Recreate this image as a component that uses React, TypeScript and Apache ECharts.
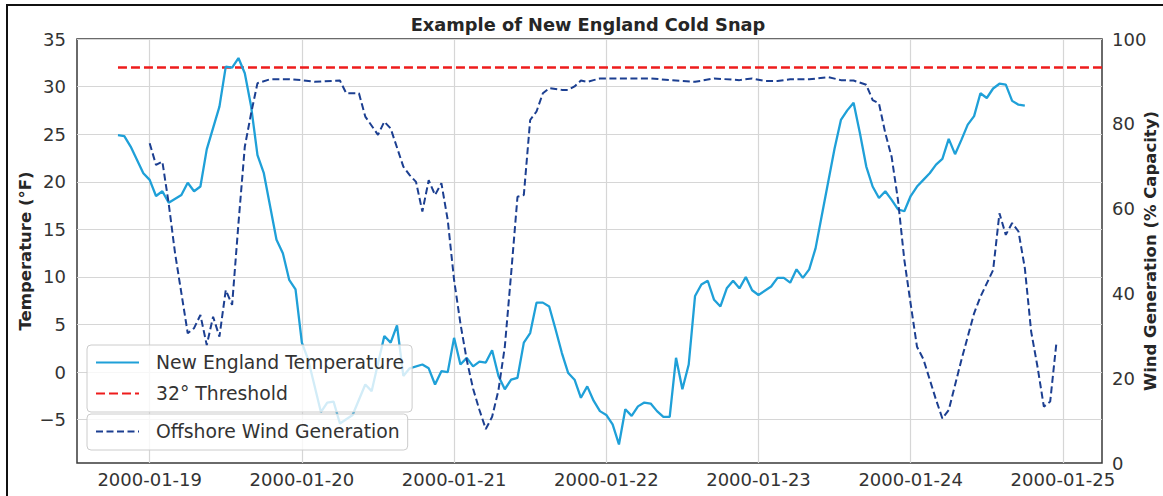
import React, { useEffect, useRef } from "react";
import * as echarts from "echarts";

const FONT = "DejaVu Sans";

// x axis: hours since 2000-01-19 00:00
const X_MIN = -11.46;
const X_MAX = 150.17;
const xTickHours = [0, 24, 48, 72, 96, 120, 144];
const xTickLabels = [
  "2000-01-19",
  "2000-01-20",
  "2000-01-21",
  "2000-01-22",
  "2000-01-23",
  "2000-01-24",
  "2000-01-25",
];

const tempTicks = [-5, 0, 5, 10, 15, 20, 25, 30, 35];
const TEMP_MIN = -9.55;
const TEMP_MAX = 35;

const tempHours = [
  -5, -4, -3, -1, 0, 1, 2, 3, 5, 6, 7, 8, 9, 11, 12, 13, 14, 15, 16, 17, 18, 20, 21, 22, 23, 24, 25, 27, 28, 29, 30, 32,
  34, 35, 37, 38, 39, 40, 41, 43, 44, 45, 46, 47, 48, 49, 50, 51, 52, 53, 54, 55, 56, 57, 58, 59, 60, 61, 62, 63, 64,
  65, 66, 67, 68, 69, 70, 71, 72, 73, 74, 75, 76, 77, 78, 79, 80, 81, 82, 83, 84, 85, 86, 87, 88, 89, 90, 91, 92, 93,
  94, 95, 96, 98, 99, 100, 101, 102, 103, 104, 105, 106, 107, 108, 109, 110, 111, 112, 113, 114, 115, 116, 117, 118,
  119, 120, 121, 122, 123, 124, 125, 126, 127, 128, 129, 130, 131, 132, 133, 134, 135, 136, 137, 138,
];
const tempValues = [
  24.9, 24.8, 23.7, 20.9, 20.2, 18.5, 19.0, 17.8, 18.6, 19.9, 19.0, 19.5, 23.4, 27.9, 32.1, 32.0, 33.0, 31.4, 27.9,
  22.8, 20.9, 13.9, 12.5, 9.7, 8.7, 3.1, 1.3, -4.2, -3.2, -3.1, -5.4, -4.5, -1.3, -2.0, 3.8, 3.1, 4.9, -0.4, 0.4, 0.8,
  0.4, -1.3, 0.1, 0.0, 3.6, 0.8, 1.5, 0.6, 1.1, 1.0, 2.3, -0.4, -1.8, -0.8, -0.6, 3.1, 4.1, 7.3, 7.3, 6.9, 4.5, 2.0,
  -0.1, -0.8, -2.7, -1.5, -3.0, -4.1, -4.5, -5.5, -7.6, -3.9, -4.6, -3.6, -3.2, -3.3, -4.1, -4.7, -4.7, 1.5, -1.8,
  0.8, 8.0, 9.2, 9.6, 7.6, 6.9, 8.8, 9.6, 8.8, 10.0, 8.6, 8.1, 9.0, 9.9, 9.9, 9.4, 10.8, 9.9, 10.8, 13.0, 16.5, 20.0,
  23.5, 26.5, 27.5, 28.3, 25.1, 21.6, 19.5, 18.3, 19.0, 18.1, 17.1, 16.9, 18.5, 19.5, 20.2, 20.9, 21.8, 22.4, 24.5,
  22.9, 24.4, 26.0, 26.9, 29.3, 28.8, 29.8, 30.3, 30.2, 28.5, 28.1, 28.0,
];

const THRESHOLD = 32;
const thresholdHours = [-5, X_MAX];

const windHours = [
  0, 1, 2, 3, 4, 6, 7, 8, 9, 10, 11, 12, 13, 14, 15, 16, 17, 19, 22, 24, 26, 30, 31, 33, 34, 36, 37, 38, 40, 41, 42,
  43, 44, 45, 46, 47, 48, 49, 50, 51, 52, 53, 54, 55, 56, 57, 58, 59, 60, 61, 62, 63, 65, 66, 67, 68, 69, 70, 71, 74,
  79, 82, 86, 89, 93, 95, 97, 99, 101, 104, 107, 109, 111, 113, 114, 115, 116, 117, 118, 119, 120, 121, 122, 124, 125,
  126, 128, 130, 131, 133, 134, 135, 136, 137, 138, 139, 140, 141, 142, 143,
];
const windValues = [
  75.4, 70.3, 71.1, 61.2, 49.5, 30.6, 31.8, 34.9, 27.8, 34.5, 29.8, 40.8, 37.3, 56.5, 74.6, 82.5, 89.6, 90.5, 90.5,
  90.3, 89.9, 90.2, 87.2, 87.2, 81.7, 77.4, 80.5, 78.9, 69.9, 67.9, 66.3, 59.3, 66.7, 63.2, 66.0, 57.3, 43.2, 32.9,
  24.3, 17.5, 12.5, 8.0, 10.9, 17.2, 27.4, 44.7, 62.8, 63.2, 80.9, 82.9, 87.2, 88.4, 88.0, 88.0, 88.8, 90.2, 89.9,
  90.3, 90.7, 90.7, 90.7, 90.3, 89.9, 90.7, 90.3, 90.7, 90.1, 90.1, 90.5, 90.5, 91.0, 90.3, 90.2, 89.2, 85.6, 84.8,
  77.8, 72.2, 62.0, 47.9, 37.5, 27.4, 24.5, 14.9, 10.5, 12.5, 24.3, 35.3, 39.2, 45.5, 58.9, 53.8, 56.6, 54.6, 46.0,
  31.0, 22.7, 13.3, 14.5, 28.6,
];

const TEMP_NAME = "New England Temperature";
const THRESH_NAME = "32° Threshold";
const WIND_NAME = "Offshore Wind Generation";

export default function App() {
  const ref = useRef<HTMLDivElement>(null);

  useEffect(() => {
    if (!ref.current) return;
    const chart = echarts.init(ref.current, null, { renderer: "svg" });

    const legendBase = {
      orient: "vertical",
      left: 87,
      itemWidth: 43,
      itemHeight: 18,
      itemGap: 12,
      padding: [8, 8, 9, 8],
      backgroundColor: "rgba(255,255,255,0.8)",
      borderColor: "#cccccc",
      borderWidth: 1,
      borderRadius: 4,
      selectedMode: false,
      itemStyle: { opacity: 0 },
      textStyle: { fontFamily: FONT, fontSize: 18.8, color: "#333333", padding: [0, 0, 0, 12] },
    };

    chart.setOption({
      animation: false,
      backgroundColor: "#ffffff",
      textStyle: { fontFamily: FONT },
      grid: {
        left: 77,
        right: 61,
        top: 39,
        bottom: 33,
        outerBoundsMode: "none",
        containLabel: false,
        show: true,
        borderColor: "#3a3a3a",
        borderWidth: 1.5,
        backgroundColor: "transparent",
      },
      graphic: [
        {
          type: "rect",
          silent: true,
          shape: { x: 7, y: 5, width: 1300, height: 700 },
          style: { fill: "none", stroke: "#111111", lineWidth: 2 },
          z: 100,
        },
        {
          type: "text",
          silent: true,
          x: 588,
          y: 24,
          style: {
            text: "Example of New England Cold Snap",
            fontFamily: FONT,
            fontSize: 17.8,
            fontWeight: "bold",
            fill: "#262626",
            align: "center",
            verticalAlign: "middle",
          },
        },
      ],
      legend: [
        { ...legendBase, top: 345, data: [TEMP_NAME, THRESH_NAME] },
        { ...legendBase, top: 414, data: [WIND_NAME] },
      ],
      xAxis: {
        type: "value",
        min: X_MIN,
        max: X_MAX,
        axisLine: { show: false },
        axisTick: { show: false, customValues: xTickHours },
        axisLabel: {
          customValues: xTickHours,
          formatter: (v: number) => {
            const i = xTickHours.indexOf(Math.round(v));
            return i >= 0 ? xTickLabels[i] : "";
          },
          fontFamily: FONT,
          fontSize: 18,
          color: "#333333",
          margin: 7,
        },
        splitLine: { show: true, lineStyle: { color: "#d6d6d6", width: 1.2 } },
      },
      yAxis: [
        {
          type: "value",
          min: TEMP_MIN,
          max: TEMP_MAX,
          position: "left",
          axisLine: { show: false },
          axisTick: { show: false, customValues: tempTicks },
          axisLabel: {
            customValues: tempTicks,
            formatter: (v: number) => (v < 0 ? "\u2212" + Math.abs(v) : String(v)),
            fontFamily: FONT,
            fontSize: 18,
            color: "#333333",
            margin: 11,
          },
          splitLine: { show: true, lineStyle: { color: "#d6d6d6", width: 1.2 } },
          name: "Temperature (°F)",
          nameLocation: "middle",
          nameMoveOverlap: false,
          nameGap: 43,
          nameTextStyle: { fontFamily: FONT, fontSize: 16.5, fontWeight: "bold", color: "#262626" },
        },
        {
          type: "value",
          min: 0,
          max: 100,
          interval: 20,
          position: "right",
          axisLine: { show: false },
          axisTick: { show: false },
          axisLabel: { fontFamily: FONT, fontSize: 18, color: "#333333", margin: 10 },
          splitLine: { show: false },
          name: "Wind Generation (% Capacity)",
          nameLocation: "middle",
          nameMoveOverlap: false,
          nameGap: 40,
          nameTextStyle: { fontFamily: FONT, fontSize: 16.5, fontWeight: "bold", color: "#262626" },
        },
      ],
      series: [
        {
          name: TEMP_NAME,
          type: "line",
          yAxisIndex: 0,
          symbol: "none",
          data: tempHours.map((h, i) => [h, tempValues[i]]),
          lineStyle: { color: "#1fa0d8", width: 2.3 },
          itemStyle: { color: "#1fa0d8" },
          z: 3,
        },
        {
          name: THRESH_NAME,
          type: "line",
          yAxisIndex: 0,
          symbol: "none",
          data: thresholdHours.map((h) => [h, THRESHOLD]),
          lineStyle: { color: "#ee1c1c", width: 2.5, type: [9, 4] },
          itemStyle: { color: "#ee1c1c" },
          z: 2,
        },
        {
          name: WIND_NAME,
          type: "line",
          yAxisIndex: 1,
          symbol: "none",
          data: windHours.map((h, i) => [h, windValues[i]]),
          lineStyle: { color: "#1c3f91", width: 2, type: [7, 3.5] },
          itemStyle: { color: "#1c3f91" },
          z: 4,
        },
      ],
    });

    return () => chart.dispose();
  }, []);

  return (
    <div
      ref={ref}
      style={{ position: "absolute", left: 0, top: 0, width: 1163, height: 496 }}
    />
  );
}
